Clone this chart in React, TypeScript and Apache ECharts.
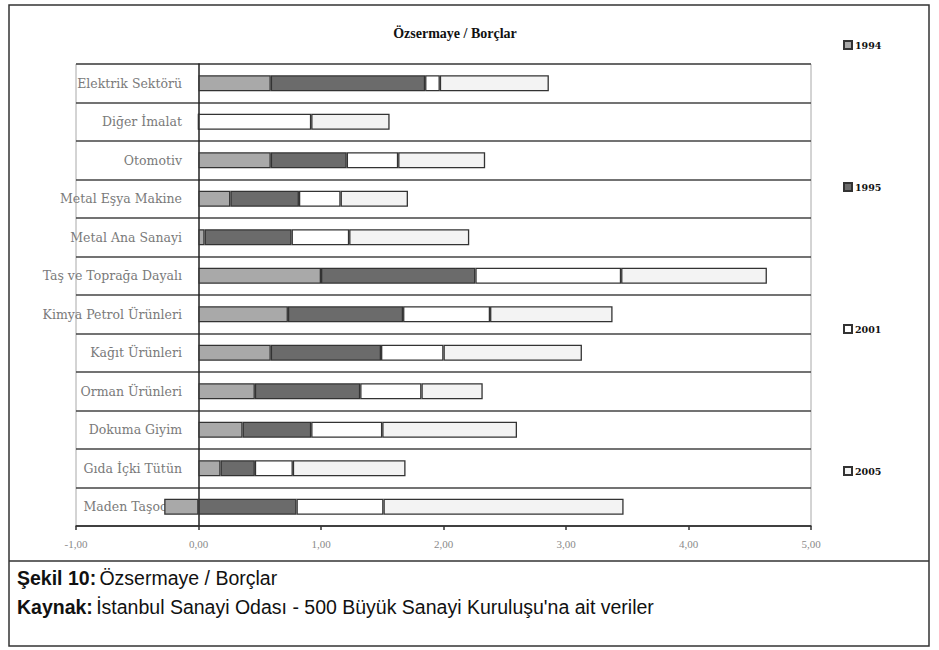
import React, { useEffect, useRef } from "react";
import * as echarts from "echarts";

const categories = [
  "Elektrik Sektörü",
  "Diğer İmalat",
  "Otomotiv",
  "Metal Eşya Makine",
  "Metal Ana Sanayi",
  "Taş ve Toprağa Dayalı",
  "Kimya Petrol Ürünleri",
  "Kağıt Ürünleri",
  "Orman Ürünleri",
  "Dokuma Giyim",
  "Gıda İçki Tütün",
  "Maden Taşocak",
];

const seriesNames = ["1994", "1995", "2001", "2005"];

const values1994 = [0.59, 0, 0.59, 0.26, 0.05, 1.0, 0.73, 0.59, 0.46, 0.36, 0.18, -0.28];
const values1995 = [1.26, 0, 0.62, 0.56, 0.71, 1.26, 0.94, 0.9, 0.86, 0.56, 0.28, 0.8];
const values2001 = [0.12, 0.92, 0.42, 0.34, 0.47, 1.19, 0.71, 0.51, 0.5, 0.58, 0.31, 0.71];
const values2005 = [0.89, 0.64, 0.71, 0.55, 0.98, 1.19, 1.0, 1.13, 0.5, 1.1, 0.92, 1.96];

const xTicks = [-1, 0, 1, 2, 3, 4, 5];

const colors = ["#a9a9a9", "#6b6b6b", "#ffffff", "#f3f3f3"];

export default function App() {
  const ref = useRef<HTMLDivElement>(null);
  useEffect(() => {
    document.body.style.margin = "0";
    const chart = echarts.init(ref.current!, null, { renderer: "svg" });
    const data = [values1994, values1995, values2001, values2005];
    const captionFont = "Liberation Sans Narrow, Liberation Sans";
    chart.setOption({
      animation: false,
      backgroundColor: "#ffffff",
      title: {
        text: "Özsermaye / Borçlar",
        left: 450,
        top: 21,
        textAlign: "center",
        textStyle: {
          fontFamily: "Liberation Serif",
          fontWeight: "bold",
          fontSize: 14,
          color: "#111",
        },
      },
      legend: {
        orient: "vertical",
        left: 838,
        top: 35,
        itemGap: 132,
        itemWidth: 8,
        itemHeight: 8,
        icon: "rect",
        data: seriesNames,
        textStyle: {
          fontFamily: "DejaVu Serif",
          fontWeight: "bold",
          fontSize: 9.5,
          color: "#111",
          padding: [0, 0, 0, -2],
        },
      },
      grid: {
        left: 76,
        right: 128,
        top: 64,
        bottom: 124,
        outerBoundsMode: "none",
        containLabel: false,
        show: true,
        borderColor: "#a8a8a8",
        borderWidth: 1,
      },
      xAxis: {
        type: "value",
        min: xTicks[0],
        max: xTicks[xTicks.length - 1],
        interval: 1,
        splitLine: { show: false },
        axisLine: { show: true, onZero: false, lineStyle: { color: "#333", width: 1.5 } },
        axisTick: { show: true, length: 4, lineStyle: { color: "#333", width: 1.5 } },
        axisLabel: {
          margin: 12,
          fontFamily: "Liberation Serif",
          fontSize: 11,
          color: "#8a8a8a",
          formatter: (v: number) => v.toFixed(2).replace(".", ","),
        },
      },
      yAxis: {
        type: "category",
        inverse: true,
        data: categories,
        axisLine: { show: true, onZero: true, lineStyle: { color: "#222", width: 1.5 } },
        axisTick: { show: false },
        splitLine: { show: true, lineStyle: { color: "#444", width: 1.5 } },
        axisLabel: {
          margin: -106,
          align: "right",
          fontFamily: "DejaVu Serif",
          fontSize: 12.5,
          color: "#7a7a7a",
        },
      },
      series: seriesNames.map((name, i) => ({
        name,
        type: "bar",
        stack: "total",
        barWidth: 16,
        data: data[i],
        itemStyle: {
          color: colors[i],
          borderColor: "#333",
          borderWidth: 1.3,
        },
      })),
      graphic: [
        {
          type: "rect",
          shape: { x: 9, y: 5, width: 920, height: 641 },
          style: { fill: "none", stroke: "#333", lineWidth: 1.5 },
          silent: true,
        },
        {
          type: "line",
          shape: { x1: 9, y1: 561, x2: 929, y2: 561 },
          style: { stroke: "#333", lineWidth: 1.5 },
          silent: true,
        },
        {
          type: "text",
          x: 17,
          y: 578,
          style: {
            text: "{b|Şekil 10:} {n|Özsermaye / Borçlar}",
            verticalAlign: "middle",
            rich: {
              b: { fontFamily: captionFont, fontWeight: "bold", fontSize: 19.5, fill: "#111" },
              n: { fontFamily: captionFont, fontSize: 19.5, fill: "#111" },
            },
          },
        },
        {
          type: "text",
          x: 17,
          y: 607,
          style: {
            text: "{b|Kaynak:} {n|İstanbul Sanayi Odası - 500 Büyük Sanayi Kuruluşu'na ait veriler}",
            verticalAlign: "middle",
            rich: {
              b: { fontFamily: captionFont, fontWeight: "bold", fontSize: 19.5, fill: "#111" },
              n: { fontFamily: captionFont, fontSize: 19.5, fill: "#111" },
            },
          },
        },
      ],
    });
    return () => chart.dispose();
  }, []);
  return (
    <div
      ref={ref}
      style={{ position: "absolute", left: 0, top: 0, width: 939, height: 650 }}
    />
  );
}
